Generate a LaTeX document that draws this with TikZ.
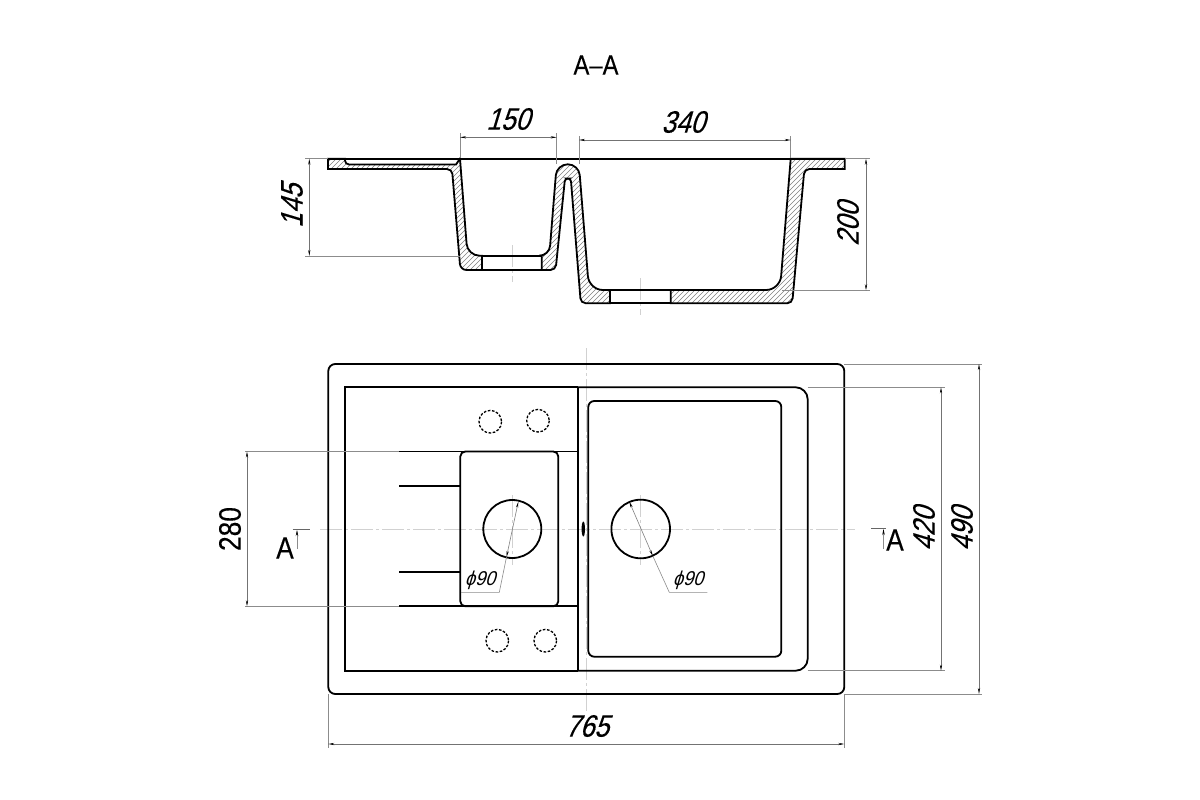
\documentclass[tikz,border=0pt]{standalone}
\usepackage{fontspec}
\usepackage{tikz}
\usetikzlibrary{arrows.meta}
\usetikzlibrary{shapes.misc}
\setmainfont{Liberation Sans}
\newfontfamily\dimfont[FakeSlant=0.3,FakeStretch=0.84,FakeBold=0.25]{Liberation Sans}
\newfontfamily\capfont[FakeStretch=0.85,FakeBold=0.25]{Liberation Sans}
\newfontfamily\smallfont[FakeSlant=0.3,FakeStretch=0.9]{Liberation Sans}
\tikzset{
    main/.style={line width=1.8pt, black},
    thin/.style={line width=.6pt, black!45},
    dim/.style={line width=.6pt, black!55, {Stealth[length=6pt,width=2.2pt,black]}-{Stealth[length=6pt,width=2.2pt,black]}},
    axis/.style={line width=.5pt, black!18, dash pattern=on 22pt off 3pt on 3pt off 3pt},
    hatchline/.style={line width=.5pt, black!50},
    holedash/.style={line width=1.3pt, black, dash pattern=on 2.6pt off 1.6pt},
    dimtext/.style={inner sep=0pt, font=\dimfont\fontsize{31}{31}\selectfont},
    captext/.style={inner sep=0pt, font=\capfont\fontsize{31}{31}\selectfont},
    smalltext/.style={inner sep=0pt, font=\smallfont\fontsize{20}{20}\selectfont},
}
% section outlines
\def\leftwall{(328,158.7) -- (328,169) [rounded corners=5pt] -- (452,169) [rounded corners=6pt] -- (460.4,270) [sharp corners] -- (482,270) -- (482,255.7) [rounded corners=12pt] -- (467.5,255.7) [sharp corners] -- (460,158.7) -- (456,164.5) [rounded corners=4pt] -- (345,164.5) [sharp corners] -- (345,158.7) -- cycle}
\def\midwall{(541.7,255.7) [rounded corners=10pt] -- (549.3,255.7) [rounded corners=11pt] -- (556.7,164.3) -- (578.9,164.3) [rounded corners=14pt] -- (589,290) [sharp corners] -- (610,290) -- (610,303.3) [rounded corners=5pt] -- (580.8,303.3) [rounded corners=3pt] -- (570.8,178.5) -- (565,178.5) [rounded corners=5pt] -- (555.6,270) [sharp corners] -- (541.7,270) -- cycle}
\def\rightwall{(670.7,290) [rounded corners=14pt] -- (780,290) [sharp corners] -- (790.7,158.7) -- (844.7,158.7) -- (844.7,169) [rounded corners=5pt] -- (804.4,169) -- (792.2,303.3) [sharp corners] -- (670.7,303.3) -- cycle}
\newcommand{\hatchwall}[1]{%
    \begin{scope}
        \clip #1;
        \foreach \i in {150,155,...,850}
            \draw[hatchline] (\i,320) -- (\i+180,140);
    \end{scope}
    \draw[main] #1;
}
\begin{document}
\begin{tikzpicture}[x=1pt,y=-1pt]
    \useasboundingbox (0,0) rectangle (1200,800);
    \fill[white] (0,0) rectangle (1200,800);

    \node[captext, font=\capfont\fontsize{28}{28}\selectfont] (title) at (596,65) {A–A};

    % section A-A
    \draw[axis] (512,245) -- (512,282);
    \draw[axis] (640.5,278) -- (640.5,315);
    \hatchwall{\leftwall}
    \hatchwall{\midwall}
    \hatchwall{\rightwall}
    \draw[main] (328,158.7) -- (844.7,158.7);
    \draw[main] (482,255.7) -- (541.7,255.7);
    \draw[main] (482,270) -- (541.7,270);
    \draw[main] (610,290) -- (670.7,290);
    \draw[main] (610,303.3) -- (670.7,303.3);

    % dimensions of the section
    \draw[thin] (460,133) -- (460,158);
    \draw[thin] (556.7,133) -- (556.7,164);
    \draw[dim] (460,137.3) -- (556.7,137.3);
    \node[dimtext] (dimsmall) at (508,119) {150};
    \draw[thin] (579,136) -- (579,164);
    \draw[thin] (790.7,136) -- (790.7,158);
    \draw[dim] (579,140) -- (790.7,140);
    \node[dimtext] (dimbig) at (683,122) {340};
    \draw[thin] (305,158.7) -- (328,158.7);
    \draw[thin] (305,256) -- (460,256);
    \draw[dim] (309.3,158.7) -- (309.3,256);
    \node[dimtext, rotate=90] (dimdepthsmall) at (292,206) {145};
    \draw[thin] (845,158.7) -- (870,158.7);
    \draw[thin] (782,290.3) -- (870,290.3);
    \draw[dim] (866,158.7) -- (866,290.3);
    \node[dimtext, rotate=90] (dimdepthbig) at (848,224) {200};

    % plan view
    \draw[axis] (320,529) -- (855,529);
    \draw[axis] (586.7,348) -- (586.7,712);
    \draw[axis] (512.3,495) -- (512.3,565);
    \draw[axis] (640.7,495) -- (640.7,565);
    \draw[main, rounded corners=7pt] (328.3,364) rectangle (844.3,694);
    \draw[main] (578,387.3) -- (345.3,387.3) -- (345.3,670.7) -- (578,670.7);
    \draw[main, rounded corners=12pt] (578,387.3) -- (807.7,387.3) -- (807.7,670.7) -- (578,670.7);
    \draw[main] (578,387.3) -- (578,670.7);
    \draw[main, rounded corners=6pt] (588.3,401) rectangle (781.3,656.7);
    \draw[main, rounded corners=5pt] (460.3,451.5) rectangle (558.3,606.3);
    \draw[main] (399.3,451.5) -- (578,451.5);
    \draw[main] (399.3,606.3) -- (578,606.3);
    \draw[main] (399.3,486) -- (460.3,486);
    \draw[main] (399.3,572) -- (460.3,572);
    \draw[holedash] (490.3,421.7) circle[radius=11.3];
    \draw[holedash] (538,420.7) circle[radius=11.3];
    \draw[holedash] (497.3,640.7) circle[radius=11.3];
    \draw[holedash] (545.3,640.7) circle[radius=11.3];
    \draw[main] (512.3,529) circle[radius=29];
    \draw[main] (640.7,529) circle[radius=29.3];
    \fill (583.3,529) ellipse[x radius=1.7,y radius=7.5];

    % hole leaders
    \draw[line width=.6pt, black!50, {Stealth[length=6pt,width=2.2pt,black]}-{Stealth[length=6pt,width=2.2pt,black]}] (518.3,501.7) -- (506.5,557);
    \draw[thin] (506.5,557) -- (499.3,592.3) -- (461,592.3);
    \node[smalltext] (holesmall) at (480,580) {ϕ90};
    \draw[line width=.6pt, black!50, {Stealth[length=6pt,width=2.2pt,black]}-{Stealth[length=6pt,width=2.2pt,black]}] (629.3,501.7) -- (652.8,556);
    \draw[thin] (652.8,556) -- (669.3,592.3) -- (707.3,592.3);
    \node[smalltext] (holebig) at (688,580) {ϕ90};

    % dimensions of the plan
    \draw[thin] (245,451.5) -- (399.3,451.5);
    \draw[thin] (245,606.3) -- (399.3,606.3);
    \draw[dim] (247,451.5) -- (247,606.3);
    \node[captext, rotate=90] (dimsmallbowl) at (230,529) {280};
    \draw[thin] (807.7,387.3) -- (945,387.3);
    \draw[thin] (807.7,670.7) -- (945,670.7);
    \draw[dim] (941,387.3) -- (941,670.7);
    \node[dimtext, rotate=90] (diminner) at (924,529) {420};
    \draw[thin] (844.3,364) -- (982,364);
    \draw[thin] (844.3,694) -- (982,694);
    \draw[dim] (979,364) -- (979,694);
    \node[dimtext, rotate=90] (dimouter) at (962,529) {490};
    \draw[thin] (328.3,694) -- (328.3,748);
    \draw[thin] (844.3,694) -- (844.3,748);
    \draw[dim] (328.3,744) -- (844.3,744);
    \node[dimtext] (dimwidth) at (587,726) {765};

    % section marks
    \draw[line width=1pt, black!60] (292.7,529) -- (310,529);
    \draw[thin, -{Stealth[length=6pt,width=2.5pt,black]}] (297,549) -- (297,530);
    \node[captext] (markleft) at (285,548) {A};
    \draw[line width=1pt, black!60] (871,528) -- (886,528);
    \draw[thin, -{Stealth[length=6pt,width=2.5pt,black]}] (883.5,549) -- (883.5,529);
    \node[captext] (markright) at (895,540) {A};
\end{tikzpicture}
\end{document}
